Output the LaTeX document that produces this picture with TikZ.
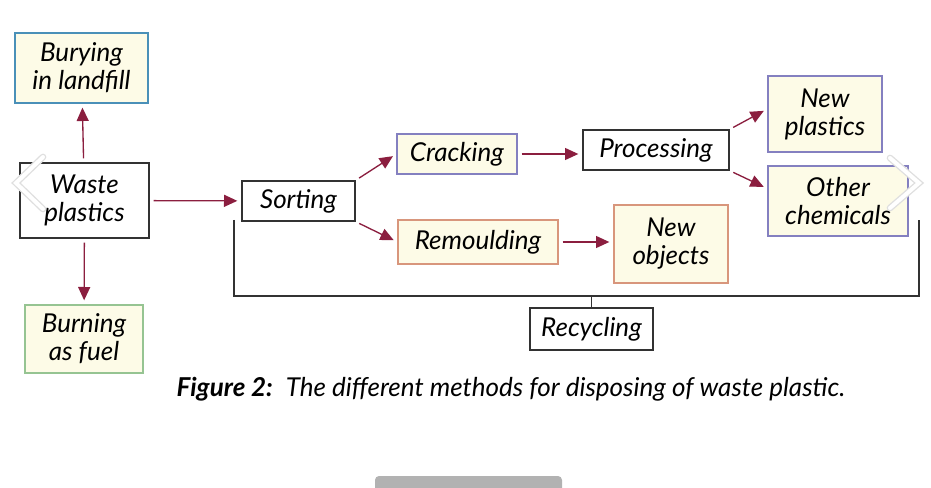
\documentclass[tikz,border=0pt]{standalone}
\usepackage{fontspec}
\setmainfont{Lato}
\usetikzlibrary{arrows.meta}

\definecolor{cream}{RGB}{253,251,231}
\definecolor{blueline}{RGB}{74,144,184}
\definecolor{greenline}{RGB}{150,196,146}
\definecolor{purpleline}{RGB}{132,128,192}
\definecolor{orangeline}{RGB}{216,150,124}
\definecolor{maroon}{RGB}{139,30,63}
\definecolor{boxline}{RGB}{50,50,50}

\begin{document}
\begin{tikzpicture}[x=0.75pt, y=-0.75pt,
    box/.style={rectangle, draw=boxline, line width=1pt, fill=white, align=center,
        inner sep=0pt, font=\fontsize{19.5}{21}\selectfont\itshape},
    cbox/.style={box, fill=cream, draw=#1},
    arrow/.style={-{Triangle[length=10pt, width=9pt]}, draw=maroon, line width=1pt,
        shorten <=3pt, shorten >=3pt}]
        \useasboundingbox (0,0) rectangle (931,488);

        % Nodes
        \node (1) [cbox=blueline, minimum width=99.75pt, minimum height=52.5pt] at (81.5, 68) {Burying\\in landfill};
        \node (2) [box, minimum width=96.75pt, minimum height=56.25pt] at (84.5, 200.5) {Waste\\plastics};
        \node (3) [cbox=greenline, minimum width=88.5pt, minimum height=51pt] at (84, 339) {Burning\\as fuel};
        \node (4) [box, minimum width=84.75pt, minimum height=30pt] at (298.5, 201) {Sorting};
        \node (5) [cbox=purpleline, minimum width=90pt, minimum height=30pt] at (457, 154) {Cracking};
        \node (6) [cbox=orangeline, minimum width=120pt, minimum height=33pt] at (478, 242) {Remoulding};
        \node (7) [box, minimum width=109.5pt, minimum height=30pt] at (656, 150) {Processing};
        \node (8) [cbox=orangeline, minimum width=85.5pt, minimum height=58.5pt] at (671, 244) {New\\objects};
        \node (9) [cbox=purpleline, minimum width=85.5pt, minimum height=57pt] at (825, 114) {New\\plastics};
        \node (10) [cbox=purpleline, minimum width=105pt, minimum height=52.5pt] at (838, 201) {Other\\chemicals};
        \node (11) [box, minimum width=92.25pt, minimum height=31.5pt] at (591.5, 329) {Recycling};
        \node (12) [font=\fontsize{19.5}{22}\selectfont\itshape] at (511, 389)
            {\textbf{Figure 2:}\enspace The different methods for disposing of waste plastic.};

        % Edges
        \draw[arrow] (2) -- (1);
        \draw[arrow] (2) -- (3);
        \draw[arrow] (2) -- (4);
        \draw[arrow] (4.north east) -- (5.west);
        \draw[arrow] (4.south east) -- (6.west);
        \draw[arrow] (5) -- (7.west |- 5);
        \draw[arrow] (6) -- (8.west |- 6);
        \draw[arrow] (7.north east) -- (9.175);
        \draw[arrow] (7.south east) -- (10.170);

        % Recycling bracket
        \coordinate (a) at (234, 220);
        \coordinate (b) at (919, 220);
        \coordinate (c) at (919, 296);
        \draw[boxline, line width=1pt] (a) |- (c) -- (b);
        \draw[boxline, line width=1pt] (11.north) -- (11.north |- c);

        % Slider controls
        \draw[gray!25, line width=5pt, line cap=round] (43, 157) -- (16, 183) -- (43, 209);
        \draw[white, line width=3pt, line cap=round] (43, 157) -- (16, 183) -- (43, 209);
        \draw[gray!25, line width=5pt, line cap=round] (890, 158) -- (919, 183) -- (890, 208);
        \draw[white, line width=3pt, line cap=round] (890, 158) -- (919, 183) -- (890, 208);
        \fill[gray!60, rounded corners=3pt] (375, 495) -- (375, 476) -- (562, 476) -- (562, 495) -- cycle;
    \end{tikzpicture}
\end{document}
